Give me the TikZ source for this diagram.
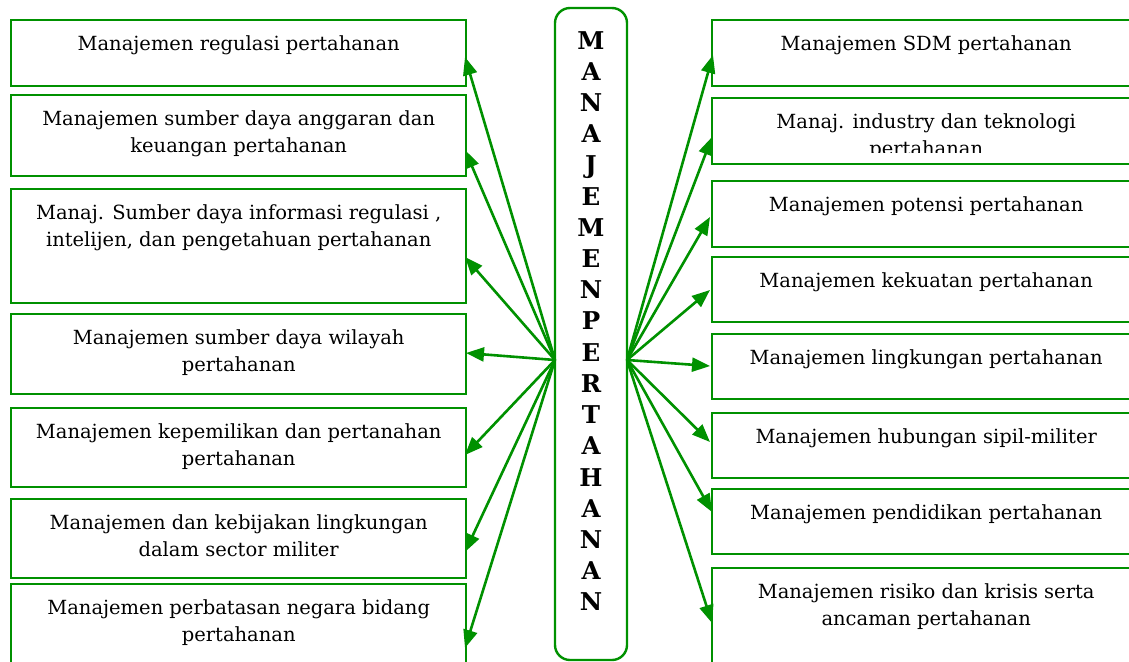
\documentclass[tikz,border=0pt]{standalone}
\usepackage{fontspec}
\setmainfont{DejaVu Serif}
\usetikzlibrary{arrows.meta}
\definecolor{gr}{RGB}{0,145,0}
\begin{document}
\begin{tikzpicture}[x=1pt,y=-1pt,
 box/.style={draw=gr,line width=2.4pt,rectangle,anchor=north west,inner sep=0pt},
 txt/.style={anchor=north,align=center,inner sep=0pt,font=\fontsize{19.5}{27}\selectfont,
   execute at begin node={\rule{0pt}{15pt}}},
 arr/.style={draw=gr,line width=2.6pt,-{Triangle[length=18pt,width=14pt]}},
 letter/.style={anchor=base,inner sep=0pt,font=\fontsize{24.5}{24.5}\bfseries\selectfont}]
\useasboundingbox (0,0) rectangle (1129,661);
% centre box
\node[draw=gr,line width=2.4pt,rounded corners=15pt,minimum width=72pt,minimum height=652pt,inner sep=0pt] (centre) at (591,334) {};
\foreach \l [count=\i from 0] in {M,A,N,A,J,E,M,E,N,P,E,R,T,A,H,A,N,A,N}
  \node[letter] (c\i) at (591,{49+31.22*\i}) {\l};
\coordinate (cl) at (555,360);
\coordinate (cr) at (627,360);
% left boxes
\node[box,minimum width=455pt,minimum height=66pt] (l1) at (10,19) {};
\node[box,minimum width=455pt,minimum height=81pt] (l2) at (10,94) {};
\node[box,minimum width=455pt,minimum height=114pt] (l3) at (10,188) {};
\node[box,minimum width=455pt,minimum height=80pt] (l4) at (10,313) {};
\node[box,minimum width=455pt,minimum height=79pt] (l5) at (10,407) {};
\node[box,minimum width=455pt,minimum height=79pt] (l6) at (10,498) {};
\node[box,minimum width=455pt,minimum height=95pt] (l7) at (10,583) {};
\node[txt] (tl1) at ([yshift=-16pt]l1.north) {Manajemen regulasi pertahanan};
\node[txt] (tl2) at ([yshift=-16pt]l2.north) {Manajemen sumber daya anggaran dan\\keuangan pertahanan};
\node[txt] (tl3) at ([yshift=-16pt]l3.north) {Manaj. Sumber daya informasi regulasi ,\\intelijen, dan pengetahuan pertahanan};
\node[txt] (tl4) at ([yshift=-16pt]l4.north) {Manajemen sumber daya wilayah\\pertahanan};
\node[txt] (tl5) at ([yshift=-16pt]l5.north) {Manajemen kepemilikan dan pertanahan\\pertahanan};
\node[txt] (tl6) at ([yshift=-16pt]l6.north) {Manajemen dan kebijakan lingkungan\\dalam sector militer};
\node[txt] (tl7) at ([yshift=-16pt]l7.north) {Manajemen perbatasan negara bidang\\pertahanan};
% right boxes
\node[box,minimum width=428pt,minimum height=66pt] (r1) at (711,19) {};
\node[box,minimum width=428pt,minimum height=66pt] (r2) at (711,97) {};
\node[box,minimum width=428pt,minimum height=66pt] (r3) at (711,180) {};
\node[box,minimum width=428pt,minimum height=65pt] (r4) at (711,256) {};
\node[box,minimum width=428pt,minimum height=65pt] (r5) at (711,333) {};
\node[box,minimum width=428pt,minimum height=65pt] (r6) at (711,412) {};
\node[box,minimum width=428pt,minimum height=65pt] (r7) at (711,488) {};
\node[box,minimum width=428pt,minimum height=110pt] (r8) at (711,567) {};
\node[txt] (tr1) at ([yshift=-16pt]r1.north) {Manajemen SDM pertahanan};
\begin{scope}
\clip (711,97) rectangle (1139,152);
\node[txt] (tr2) at ([yshift=-16pt]r2.north) {Manaj. industry dan teknologi\\pertahanan};
\end{scope}
\node[txt] (tr3) at ([yshift=-16pt]r3.north) {Manajemen potensi pertahanan};
\node[txt] (tr4) at ([yshift=-16pt]r4.north) {Manajemen kekuatan pertahanan};
\node[txt] (tr5) at ([yshift=-16pt]r5.north) {Manajemen lingkungan pertahanan};
\node[txt] (tr6) at ([yshift=-16pt]r6.north) {Manajemen hubungan sipil-militer};
\node[txt] (tr7) at ([yshift=-16pt]r7.north) {Manajemen pendidikan pertahanan};
\node[txt] (tr8) at ([yshift=-16pt]r8.north) {Manajemen risiko dan krisis serta\\ancaman pertahanan};
% arrow tips
\coordinate (al1) at (465,57);
\coordinate (al2) at (465,150);
\coordinate (al3) at (465,257);
\coordinate (al4) at (466,353);
\coordinate (al5) at (465,455);
\coordinate (al6) at (465,552);
\coordinate (al7) at (465,648);
\coordinate (ar1) at (713,55);
\coordinate (ar2) at (712,137);
\coordinate (ar3) at (710,217);
\coordinate (ar4) at (710,290);
\coordinate (ar5) at (710,366);
\coordinate (ar6) at (710,442);
\coordinate (ar7) at (712,512);
\coordinate (ar8) at (712,623);
\foreach \i in {1,...,7} \draw[arr] (cl) -- (al\i);
\foreach \i in {1,...,8} \draw[arr] (cr) -- (ar\i);
\end{tikzpicture}
\end{document}
